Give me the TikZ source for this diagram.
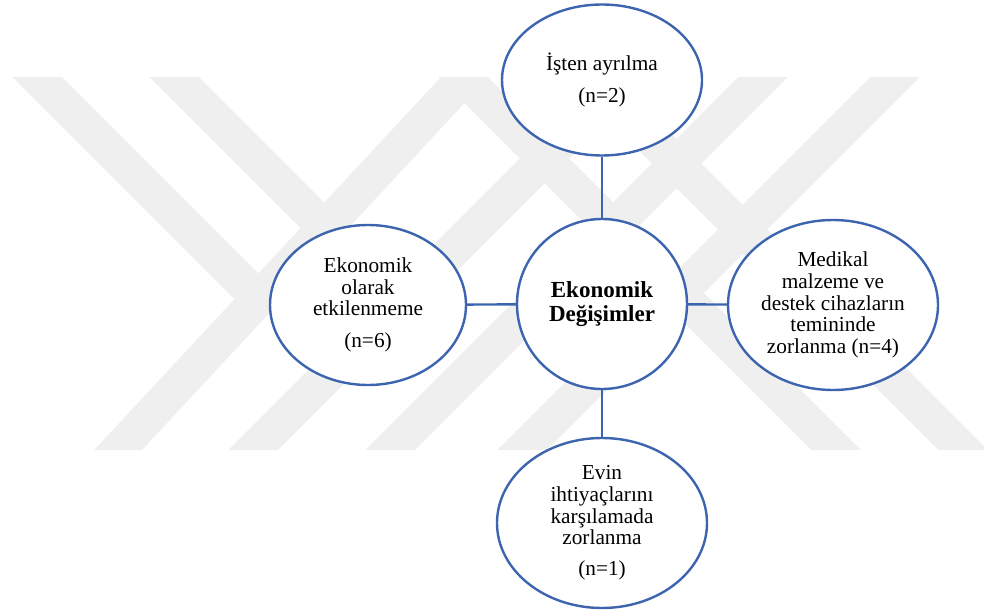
\documentclass[tikz,border=0pt]{standalone}
\usepackage{fontspec}
\setmainfont{Liberation Serif}
\usepackage{tikz}
\usetikzlibrary{shapes.geometric}
\definecolor{ringColor}{HTML}{3C64AF}
\definecolor{markColor}{HTML}{EFEFEF}

\begin{document}
\begin{tikzpicture}[x=1pt, y=-1pt,
    bubble/.style={ellipse, draw=ringColor, line width=2.4pt, fill=white, inner sep=0pt,
        align=center, font=\fontsize{21.3}{21.7}\selectfont},
    link/.style={ringColor, line width=2.4pt}]
    \useasboundingbox (0,0) rectangle (984,612);
    % faint chevrons behind
    \begin{scope}
        \clip (0,78) rectangle (984,449);
        \begin{scope}[markColor, line width=35pt]
            \draw (0,40) -- (258.7,298.7);
            \draw (499.3,40) -- (80.9,490);
            \draw (137,40) -- (400,303);
            \draw (663,40) -- (213,490);
            \draw (800,40) -- (350,490);
            \draw (932,40) -- (482,490);
            \draw (426,40) -- (876,490);
            \draw (553,40) -- (1003,490);
        \end{scope}
    \end{scope}
    \node[bubble, circle, minimum size=170pt, font=\fontsize{23}{24.5}\selectfont\bfseries]
        (center) at (602,304) {Ekonomik\\Değişimler};
    \node[bubble, minimum width=200pt, minimum height=151pt] (isten) at (602,80)
        {İşten ayrılma\\[10pt](n=2)};
    \node[bubble, minimum width=196pt, minimum height=160pt] (etkilenmeme) at (368,305)
        {Ekonomik\\olarak\\etkilenmeme\\[10pt](n=6)};
    \node[bubble, minimum width=210pt, minimum height=170pt] (medikal) at (833,305)
        {Medikal\\malzeme ve\\destek cihazların\\temininde\\zorlanma (n=4)};
    \node[bubble, minimum width=210pt, minimum height=170pt] (evin) at (602,523)
        {Evin\\ihtiyaçlarını\\karşılamada\\zorlanma\\[9pt](n=1)};
    \draw[link] (isten) -- (center);
    \draw[link] (etkilenmeme) -- (center);
    \draw[link] (center) -- (medikal);
    \draw[link] (center) -- (evin);
\end{tikzpicture}
\end{document}
